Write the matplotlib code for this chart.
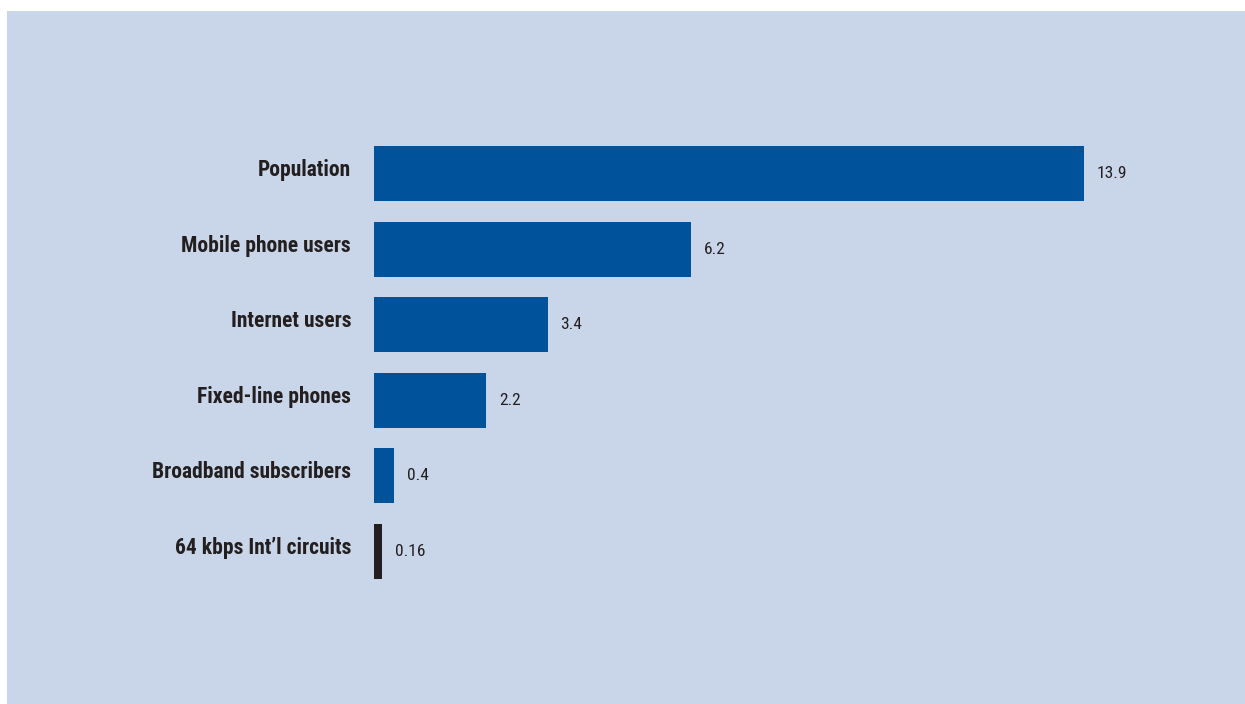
import matplotlib.pyplot as plt
import matplotlib.transforms as mtransforms
from matplotlib.patches import Rectangle
from matplotlib import font_manager

# Values per indicator (labels on the bars)
categories = ['Population', 'Mobile phone users', 'Internet users',
              'Fixed-line phones', 'Broadband subscribers', '64 kbps Int\u2019l circuits']
values = [13.9, 6.2, 3.4, 2.2, 0.4, 0.16]
value_labels = ['13.9', '6.2', '3.4', '2.2', '0.4', '0.16']

panel_color = '#C9D5E8'
bar_blue = '#00529B'
bar_dark = '#231F20'
text_color = '#231F20'
bar_colors = [bar_blue] * 5 + [bar_dark]

installed = {f.name for f in font_manager.fontManager.ttflist}
narrow = [f for f in ['Roboto Condensed', 'Liberation Sans Narrow', 'Roboto']
          if f in installed] + ['DejaVu Sans']

fig = plt.figure(figsize=(12.45, 7.04), dpi=100)
fig.patch.set_facecolor('white')
fig.patches.append(Rectangle((7 / 1245, 0), 1 - 7 / 1245, 1 - 11 / 704,
                             transform=fig.transFigure, facecolor=panel_color,
                             edgecolor='none', zorder=-10))

ax = fig.add_axes([374 / 1245, 115 / 704, 817 / 1245, 453 / 704])
ax.set_facecolor('none')

ypos = list(range(len(categories)))
ax.barh(ypos, values, height=0.73, color=bar_colors, edgecolor='none')
ax.set_xlim(0, 16)
ax.set_ylim(len(categories) - 0.5, -0.5)

for spine in ax.spines.values():
    spine.set_visible(False)
ax.set_xticks([])
ax.set_yticks(ypos)
ax.set_yticklabels(categories, family=narrow, fontweight='bold',
                   fontsize=15.5, color=text_color)
ax.tick_params(axis='y', length=0, pad=16.5)
shift = mtransforms.ScaledTranslation(0, 6 / 100, fig.dpi_scale_trans)
for lab in ax.get_yticklabels():
    lab.set_transform(lab.get_transform() + shift)

# Value labels just past the end of each bar
for y, v, txt in zip(ypos, values, value_labels):
    ax.annotate(txt, xy=(v, y), xytext=(13, 0), textcoords='offset pixels',
                va='center', ha='left', fontsize=12.5, family=narrow,
                color=text_color)

fig.savefig('out.png', dpi=100, facecolor=fig.get_facecolor())
